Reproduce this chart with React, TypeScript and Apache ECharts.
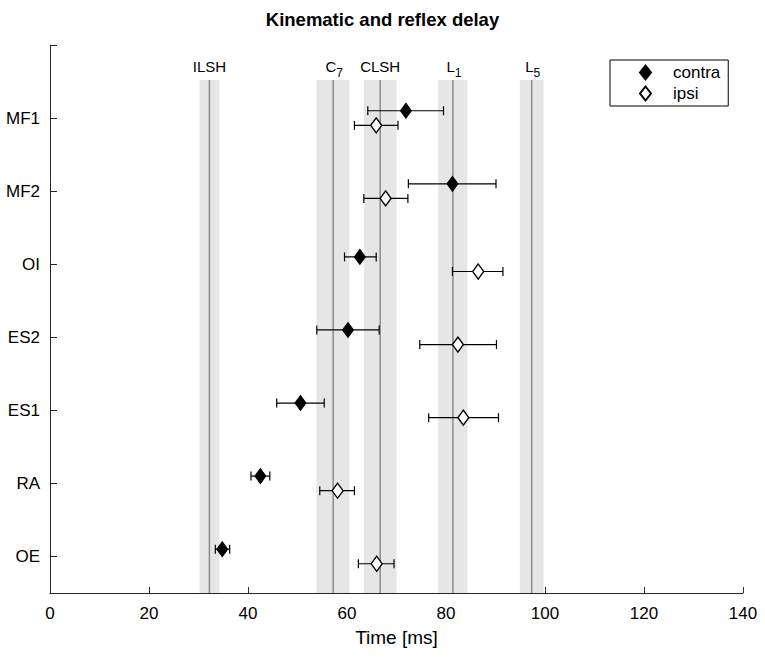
import React, { useEffect, useRef } from "react";
import * as echarts from "echarts";

const muscles = ["MF1", "MF2", "OI", "ES2", "ES1", "RA", "OE"];
const contraMean = [71.9, 81.3, 62.6, 60.2, 50.6, 42.5, 34.8];
const contraLow = [64.2, 72.4, 59.5, 53.9, 45.8, 40.6, 33.4];
const contraHigh = [79.5, 90.1, 65.9, 66.5, 55.4, 44.4, 36.3];
const ipsiMean = [65.9, 67.8, 86.5, 82.4, 83.5, 58.1, 66.0];
const ipsiLow = [61.5, 63.4, 81.3, 74.7, 76.5, 54.5, 62.3];
const ipsiHigh = [70.3, 72.3, 91.5, 90.2, 90.6, 61.5, 69.5];

const landmarkNames = ["ILSH", "C", "CLSH", "L", "L"];
const landmarkSubs = ["", "7", "", "1", "5"];
const landmarkCenter = [32.2, 57.2, 66.7, 81.4, 97.3];
const landmarkLow = [30.2, 53.8, 63.4, 78.4, 94.9];
const landmarkHigh = [34.2, 60.5, 70.0, 84.3, 99.7];

const xTicks = [0, 20, 40, 60, 80, 100, 120, 140];

const Y_MIN = 0.5;
const Y_MAX = 8;
const BAND_TOP = 7.52;
const OFFSET = 0.1;
const FONT = "'Liberation Sans', Arial, Helvetica, sans-serif";

export default function App() {
  const ref = useRef<HTMLDivElement>(null);
  useEffect(() => {
    document.body.style.margin = "0";
    const chart = echarts.init(ref.current!, null, { renderer: "svg" });
    const n = muscles.length;
    const yPos = muscles.map((_, i) => n - i);
    const contraPts = contraMean.map((m, i) => [m, yPos[i] + OFFSET]);
    const ipsiPts = ipsiMean.map((m, i) => [m, yPos[i] - OFFSET]);
    const contraErr = contraLow.map((l, i) => [l, contraHigh[i], yPos[i] + OFFSET]);
    const ipsiErr = ipsiLow.map((l, i) => [l, ipsiHigh[i], yPos[i] - OFFSET]);
    const bands = landmarkCenter.map((c, i) => [landmarkLow[i], landmarkHigh[i], c, i]);

    const errRender = (params: any, api: any) => {
      const p1 = api.coord([api.value(0), api.value(2)]);
      const p2 = api.coord([api.value(1), api.value(2)]);
      const cap = 4.5;
      const st = { stroke: "#000", lineWidth: 1.2 };
      return {
        type: "group",
        children: [
          { type: "line", shape: { x1: p1[0], y1: p1[1], x2: p2[0], y2: p2[1] }, style: st },
          { type: "line", shape: { x1: p1[0], y1: p1[1] - cap, x2: p1[0], y2: p1[1] + cap }, style: st },
          { type: "line", shape: { x1: p2[0], y1: p2[1] - cap, x2: p2[0], y2: p2[1] + cap }, style: st },
        ],
      };
    };

    const bandRender = (params: any, api: any) => {
      const idx = api.value(3);
      const tl = api.coord([api.value(0), BAND_TOP]);
      const br = api.coord([api.value(1), Y_MIN]);
      const ct = api.coord([api.value(2), BAND_TOP]);
      const cb = api.coord([api.value(2), Y_MIN]);
      const sub = landmarkSubs[idx];
      const text = sub ? `{m|${landmarkNames[idx]}}{s|${sub}}` : `{m|${landmarkNames[idx]}}`;
      return {
        type: "group",
        children: [
          {
            type: "rect",
            shape: { x: tl[0], y: tl[1], width: br[0] - tl[0], height: br[1] - tl[1] },
            style: { fill: "#e6e6e6" },
          },
          {
            type: "line",
            shape: { x1: ct[0], y1: ct[1], x2: cb[0], y2: cb[1] },
            style: { stroke: "#858585", lineWidth: 1.4 },
          },
          {
            type: "text",
            x: ct[0] + (sub ? 1 : 0),
            y: ct[1] - 21,
            style: {
              text,
              align: "center",
              verticalAlign: "top",
              fill: "#000",
              rich: {
                m: { fontSize: 15, lineHeight: 18, verticalAlign: "top", fontFamily: FONT, fill: "#000" },
                s: {
                  fontSize: 12,
                  lineHeight: 14,
                  padding: [8, 0, 0, 0],
                  verticalAlign: "top",
                  fontFamily: FONT,
                  fill: "#000",
                },
              },
            },
          },
        ],
      };
    };

    chart.setOption({
      animation: false,
      backgroundColor: "#fff",
      textStyle: { fontFamily: FONT },
      title: {
        text: "Kinematic and reflex delay",
        left: "center",
        top: 5,
        textStyle: { fontSize: 18.5, fontWeight: "bold", color: "#000", fontFamily: FONT },
      },
      grid: { left: 50, right: 22, top: 45, bottom: 65 },
      legend: {
        data: ["contra", "ipsi"],
        orient: "vertical",
        left: 610,
        top: 60,
        width: 118,
        borderColor: "#000",
        borderWidth: 1,
        borderRadius: 0,
        padding: [4, 8, 4, 29],
        itemWidth: 11,
        itemHeight: 14,
        itemGap: 4,
        textStyle: { fontSize: 17, color: "#000", padding: [0, 0, 0, 17], fontFamily: FONT },
      },
      xAxis: {
        type: "value",
        min: 0,
        max: 140,
        interval: 20,
        name: "Time [ms]",
        nameLocation: "middle",
        nameGap: 35,
        nameTextStyle: { fontSize: 19, color: "#000", fontFamily: FONT },
        axisLine: { show: true, lineStyle: { color: "#262626", width: 1 } },
        axisTick: { show: true, inside: true, length: 6, lineStyle: { color: "#262626" } },
        axisLabel: {
          fontSize: 17,
          color: "#000",
          margin: 12,
          fontFamily: FONT,
          customValues: xTicks,
        },
        splitLine: { show: false },
      },
      yAxis: {
        type: "value",
        min: Y_MIN,
        max: Y_MAX,
        axisLine: { show: true, lineStyle: { color: "#262626", width: 1 } },
        axisTick: {
          show: true,
          inside: true,
          length: 7,
          lineStyle: { color: "#262626" },
          customValues: [1, 2, 3, 4, 5, 6, 7, 8],
        },
        axisLabel: {
          fontSize: 17,
          color: "#000",
          margin: 10,
          fontFamily: FONT,
          customValues: yPos,
          formatter: (v: number) => muscles[n - Math.round(v)] ?? "",
        },
        splitLine: { show: false },
      },
      series: [
        {
          name: "bands",
          type: "custom",
          renderItem: bandRender,
          data: bands,
          z: 1,
          silent: true,
          encode: { x: [0, 1, 2] },
          clip: false,
        },
        { name: "contra-err", type: "custom", renderItem: errRender, data: contraErr, z: 3, encode: { x: [0, 1], y: 2 } },
        { name: "ipsi-err", type: "custom", renderItem: errRender, data: ipsiErr, z: 3, encode: { x: [0, 1], y: 2 } },
        {
          name: "contra",
          type: "scatter",
          symbol: "diamond",
          symbolSize: [11, 15],
          data: contraPts,
          itemStyle: { color: "#000", borderColor: "#000", borderWidth: 1, opacity: 1 },
          z: 5,
        },
        {
          name: "ipsi",
          type: "scatter",
          symbol: "diamond",
          symbolSize: [11, 15],
          data: ipsiPts,
          itemStyle: { color: "#fff", borderColor: "#000", borderWidth: 1.4, opacity: 1 },
          z: 5,
        },
      ],
    });
    return () => chart.dispose();
  }, []);
  return <div ref={ref} style={{ width: 765, height: 658 }} />;
}
